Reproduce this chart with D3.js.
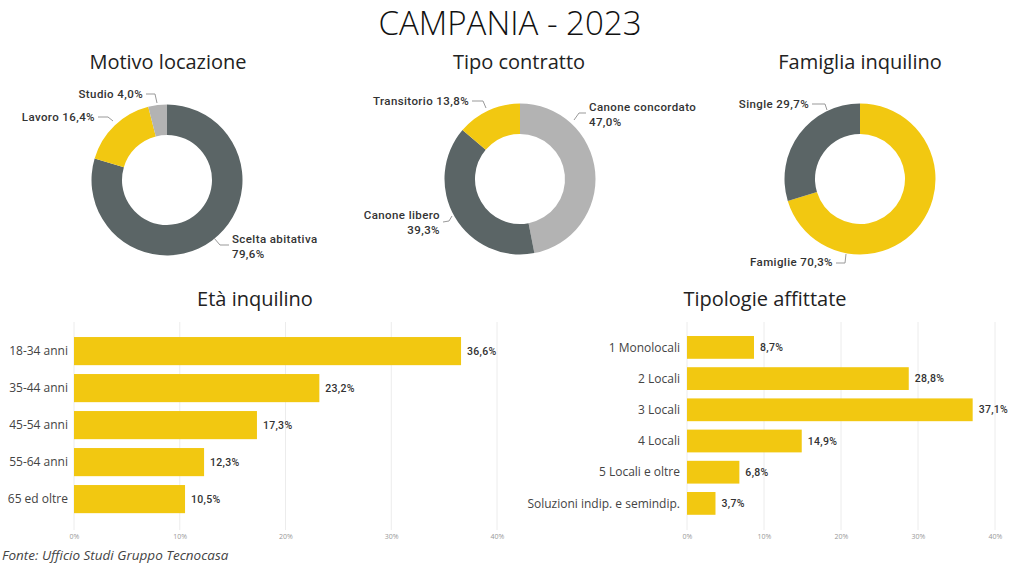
<!DOCTYPE html>
<html><head><meta charset="utf-8">
<script src="https://cdn.jsdelivr.net/npm/d3@7"></script>
<style>
body{margin:0;background:#fff;}
svg{display:block;}
</style></head>
<body>
<svg id="c" width="1016" height="570"></svg>
<script>
// ---- DATA ----
const motivoLabels = ["Scelta abitativa", "Lavoro", "Studio"];
const motivoValues = [79.6, 16.4, 4.0];
const contrattoLabels = ["Canone concordato", "Canone libero", "Transitorio"];
const contrattoValues = [47.0, 39.3, 13.8];
const famigliaLabels = ["Famiglie", "Single"];
const famigliaValues = [70.3, 29.7];
const etaCategories = ["18-34 anni", "35-44 anni", "45-54 anni", "55-64 anni", "65 ed oltre"];
const etaValues = [36.6, 23.2, 17.3, 12.3, 10.5];
const tipoCategories = ["1 Monolocali", "2 Locali", "3 Locali", "4 Locali", "5 Locali e oltre", "Soluzioni indip. e semindip."];
const tipoValues = [8.7, 28.8, 37.1, 14.9, 6.8, 3.7];
const xTicks = [0, 10, 20, 30, 40];

const DARK = "#5b6566", YEL = "#f2c811", LGRAY = "#b3b3b3";
const svg = d3.select("#c");
const fmt = v => d3.format(".1f")(v).replace(".", ",") + "%";

svg.append("text").attr("x", 510).attr("y", 35).attr("text-anchor", "middle")
  .style("font-family", "'Open Sans', sans-serif").style("font-weight", 300)
  .style("font-size", "33px").attr("fill", "#111").text("CAMPANIA - 2023");

function subtitle(x, y, t) {
  svg.append("text").attr("x", x).attr("y", y).attr("text-anchor", "middle")
    .style("font-family", "'Open Sans', sans-serif").style("font-size", "20px")
    .attr("fill", "#222").text(t);
}
subtitle(168, 69, "Motivo locazione");
subtitle(519, 69, "Tipo contratto");
subtitle(860, 69, "Famiglia inquilino");
subtitle(255, 306, "Età inquilino");
subtitle(765, 306, "Tipologie affittate");

const lblFont = "'Roboto', 'DejaVu Sans', sans-serif";

function donut(cx, cy, labels, values, colors, lblSpec) {
  const g = svg.append("g").attr("transform", `translate(${cx},${cy})`);
  const pie = d3.pie().sort(null).value(d => d)(values);
  const arc = d3.arc().innerRadius(45).outerRadius(75.5);
  g.selectAll("path").data(pie).join("path").attr("d", arc)
    .attr("fill", (d, i) => colors[i]);
  lblSpec.forEach((s, i) => {
    const t = svg.append("text").attr("x", s.x).attr("y", s.y).attr("text-anchor", s.anchor)
      .style("font-family", lblFont).style("font-size", "11.5px").style("font-weight", 500)
      .style("letter-spacing", "0.4px").attr("fill", "#333");
    const lines = s.two ? [labels[s.i], fmt(values[s.i])] : [labels[s.i] + " " + fmt(values[s.i])];
    lines.forEach((l, k) => t.append("tspan").attr("x", s.x).attr("dy", k ? 15 : 0).text(l));
    svg.append("polyline").attr("points", s.pts.map(p => p.join(",")).join(" "))
      .attr("fill", "none").attr("stroke", "#999").attr("stroke-width", 1);
  });
}

donut(167, 180, motivoLabels, motivoValues, [DARK, YEL, LGRAY], [
  {i: 0, x: 232, y: 243, anchor: "start", two: true, pts: [[214, 238], [220, 245], [229, 245]]},
  {i: 1, x: 95, y: 121, anchor: "end", two: false, pts: [[98, 117], [108, 117], [113, 121]]},
  {i: 2, x: 143, y: 98, anchor: "end", two: false, pts: [[146, 94], [155, 94], [157, 103]]}
]);
donut(520, 179, contrattoLabels, contrattoValues, [LGRAY, DARK, YEL], [
  {i: 0, x: 589, y: 111, anchor: "start", two: true, pts: [[574, 120], [579, 113], [586, 113]]},
  {i: 1, x: 440, y: 219, anchor: "end", two: true, pts: [[443, 222], [449, 221], [452, 216]]},
  {i: 2, x: 469, y: 105, anchor: "end", two: false, pts: [[472, 101], [483, 101], [486, 108]]}
]);
donut(860, 179, famigliaLabels, famigliaValues, [YEL, DARK], [
  {i: 0, x: 833, y: 266, anchor: "end", two: false, pts: [[836, 263], [845, 263], [846, 254]]},
  {i: 1, x: 809, y: 108, anchor: "end", two: false, pts: [[812, 104], [825, 104], [827, 110]]}
]);

function bars(cats, vals, x0, x1, yTop, yBot, padIn, padOut, labelX, gridTop, gridBot) {
  const x = d3.scaleLinear().domain([0, 40]).range([x0, x1]);
  const y = d3.scaleBand().domain(cats).range([yTop, yBot]).paddingInner(padIn).paddingOuter(padOut);
  const g = svg.append("g");
  g.selectAll("line.grid").data(xTicks).join("line").attr("class", "grid")
    .attr("x1", d => x(d)).attr("x2", d => x(d)).attr("y1", gridTop).attr("y2", gridBot)
    .attr("stroke", "#ececec").attr("stroke-width", 1);
  const ax = g.append("g").attr("transform", `translate(0,${gridBot})`)
    .call(d3.axisBottom(x).tickValues(xTicks).tickFormat(d => d + "%").tickSize(0).tickPadding(4));
  ax.select(".domain").remove();
  ax.selectAll("text").attr("fill", "#999").style("font-family", "'Open Sans', sans-serif").style("font-size", "7px");
  g.selectAll("rect").data(cats).join("rect")
    .attr("x", x(0)).attr("y", d => y(d)).attr("height", y.bandwidth())
    .attr("width", (d, i) => x(vals[i]) - x(0)).attr("fill", YEL);
  g.selectAll("text.cat").data(cats).join("text").attr("class", "cat")
    .attr("x", labelX).attr("y", d => y(d) + y.bandwidth() / 2).attr("dy", "0.35em")
    .attr("text-anchor", "end").style("font-family", "'Open Sans', sans-serif").style("font-size", "12px")
    .attr("fill", "#444").text(d => d);
  g.selectAll("text.val").data(cats).join("text").attr("class", "val")
    .attr("x", (d, i) => x(vals[i]) + 6).attr("y", d => y(d) + y.bandwidth() / 2).attr("dy", "0.35em")
    .style("font-family", lblFont).style("font-size", "10.5px").style("font-weight", 500)
    .style("letter-spacing", "0.3px").attr("fill", "#333").text((d, i) => fmt(vals[i]));
}

bars(etaCategories, etaValues, 74, 497, 332.6, 517.6, 0.24, 0.12, 68, 322, 530);
bars(tipoCategories, tipoValues, 687, 995, 331.8, 519, 0.27, 0.135, 680, 322, 530);

svg.append("text").attr("x", 2).attr("y", 560)
  .style("font-family", "'Open Sans', sans-serif").style("font-style", "italic").style("font-size", "13.5px")
  .attr("fill", "#444").text("Fonte: Ufficio Studi Gruppo Tecnocasa");
</script>
</body></html>
